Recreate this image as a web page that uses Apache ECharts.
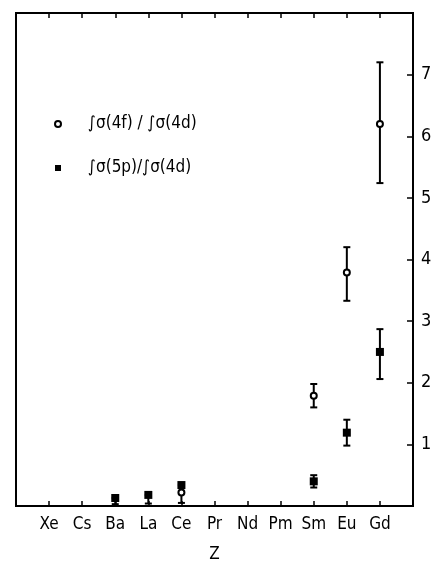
<!DOCTYPE html>
<html>
<head>
<meta charset="utf-8">
<script src="https://cdn.jsdelivr.net/npm/echarts@6/dist/echarts.min.js"></script>
<style>
html,body{margin:0;padding:0;background:#fff;}
#chart{width:433px;height:563px;}
</style>
</head>
<body>
<div id="chart"></div>
<script>
// ---- data ----
var categories = ['Xe','Cs','Ba','La','Ce','Pr','Nd','Pm','Sm','Eu','Gd'];
var yTicks = [1,2,3,4,5,6,7];

var ratio4f     = [null,null,null,null,0.22,null,null,null,1.79,3.79,6.20];
var ratio4fLow  = [null,null,null,null,0.05,null,null,null,1.60,3.33,5.24];
var ratio4fHigh = [null,null,null,null,0.34,null,null,null,1.98,4.20,7.20];

var ratio5p     = [null,null,0.13,0.18,0.34,null,null,null,0.40,1.19,2.50];
var ratio5pLow  = [null,null,0.03,0.04,null,null,null,null,0.30,0.98,2.06];
var ratio5pHigh = [null,null,0.13,0.18,null,null,null,null,0.50,1.40,2.87];

var name4f = '\u222B\u03C3(4f) / \u222B\u03C3(4d)';
var name5p = '\u222B\u03C3(5p)/\u222B\u03C3(4d)';

// ---- build options ----
var axisCats = [''].concat(categories).concat(['']);
function points(vals){
  var out = [];
  vals.forEach(function(v,i){ if(v!=null) out.push([categories[i], v]); });
  return out;
}
function bars(lo, hi){
  var out = [];
  lo.forEach(function(v,i){ if(v!=null && hi[i]!=null) out.push([categories[i], v, hi[i]]); });
  return out;
}
var FONT = '"DejaVu Sans Condensed","Liberation Sans Narrow","Roboto Condensed","DejaVu Sans",sans-serif';

function renderErr(params, api){
  var x = api.value(0);
  var p1 = api.coord([x, api.value(1)]);
  var p2 = api.coord([x, api.value(2)]);
  var cw = 3.5;
  var st = {stroke:'#000', lineWidth:2};
  return {type:'group', children:[
    {type:'line', shape:{x1:p1[0],y1:p1[1],x2:p2[0],y2:p2[1]}, style:st},
    {type:'line', shape:{x1:p1[0]-cw,y1:p1[1],x2:p1[0]+cw,y2:p1[1]}, style:st},
    {type:'line', shape:{x1:p2[0]-cw,y1:p2[1],x2:p2[0]+cw,y2:p2[1]}, style:st}
  ]};
}

var chart = echarts.init(document.getElementById('chart'), null, {renderer:'canvas'});
chart.setOption({
  backgroundColor:'#fff',
  animation:false,
  grid:{left:16, right:20, top:13, bottom:57, outerBoundsMode:'none', containLabel:false,
    show:true, borderColor:'#000', borderWidth:2, backgroundColor:'transparent'},
  legend:{
    orient:'vertical', left:49, top:109, itemGap:24,
    itemWidth:6, itemHeight:6,
    data:[name4f, name5p],
    textStyle:{fontFamily:FONT, fontSize:17, color:'#000', padding:[0,0,0,22], lineHeight:20}
  },
  xAxis:[{
    type:'category', data:axisCats, boundaryGap:false, position:'bottom',
    axisLine:{show:false},
    axisTick:{show:true, inside:true, length:5, lineStyle:{color:'#000', width:1.5},
      interval:function(i, v){ return v !== ''; }},
    axisLabel:{interval:0, color:'#000', fontFamily:FONT, fontSize:17, margin:10},
    splitLine:{show:false},
    name:'Z', nameLocation:'middle', nameGap:40,
    nameTextStyle:{color:'#000', fontFamily:FONT, fontSize:17}
  },{
    type:'category', data:axisCats, boundaryGap:false, position:'top',
    axisLine:{show:false},
    axisTick:{show:true, inside:true, length:5, lineStyle:{color:'#000', width:1.5},
      interval:function(i, v){ return v !== ''; }},
    axisLabel:{show:false}, splitLine:{show:false}
  }],
  yAxis:[{
    type:'value', min:0, max:8, interval:1, position:'right',
    axisLine:{show:false},
    axisTick:{show:true, inside:true, length:6, lineStyle:{color:'#000', width:1.5}},
    axisLabel:{color:'#000', fontFamily:FONT, fontSize:18, margin:8,
      formatter:function(v){ return yTicks.indexOf(v) >= 0 ? String(v) : ''; }},
    splitLine:{show:false}
  }],
  series:[
    {type:'custom', name:'err4f', renderItem:renderErr, data:bars(ratio4fLow, ratio4fHigh), z:2, silent:true},
    {type:'custom', name:'err5p', renderItem:renderErr, data:bars(ratio5pLow, ratio5pHigh), z:2, silent:true},
    {type:'scatter', name:name4f, data:points(ratio4f), symbol:'circle', symbolSize:6,
      itemStyle:{color:'#fff', borderColor:'#000', borderWidth:2, opacity:1}, z:5},
    {type:'scatter', name:name5p, data:points(ratio5p), symbol:'rect', symbolSize:8,
      itemStyle:{color:'#000', borderColor:'#000', borderWidth:0, opacity:1}, z:5}
  ]
});
</script>
</body>
</html>
